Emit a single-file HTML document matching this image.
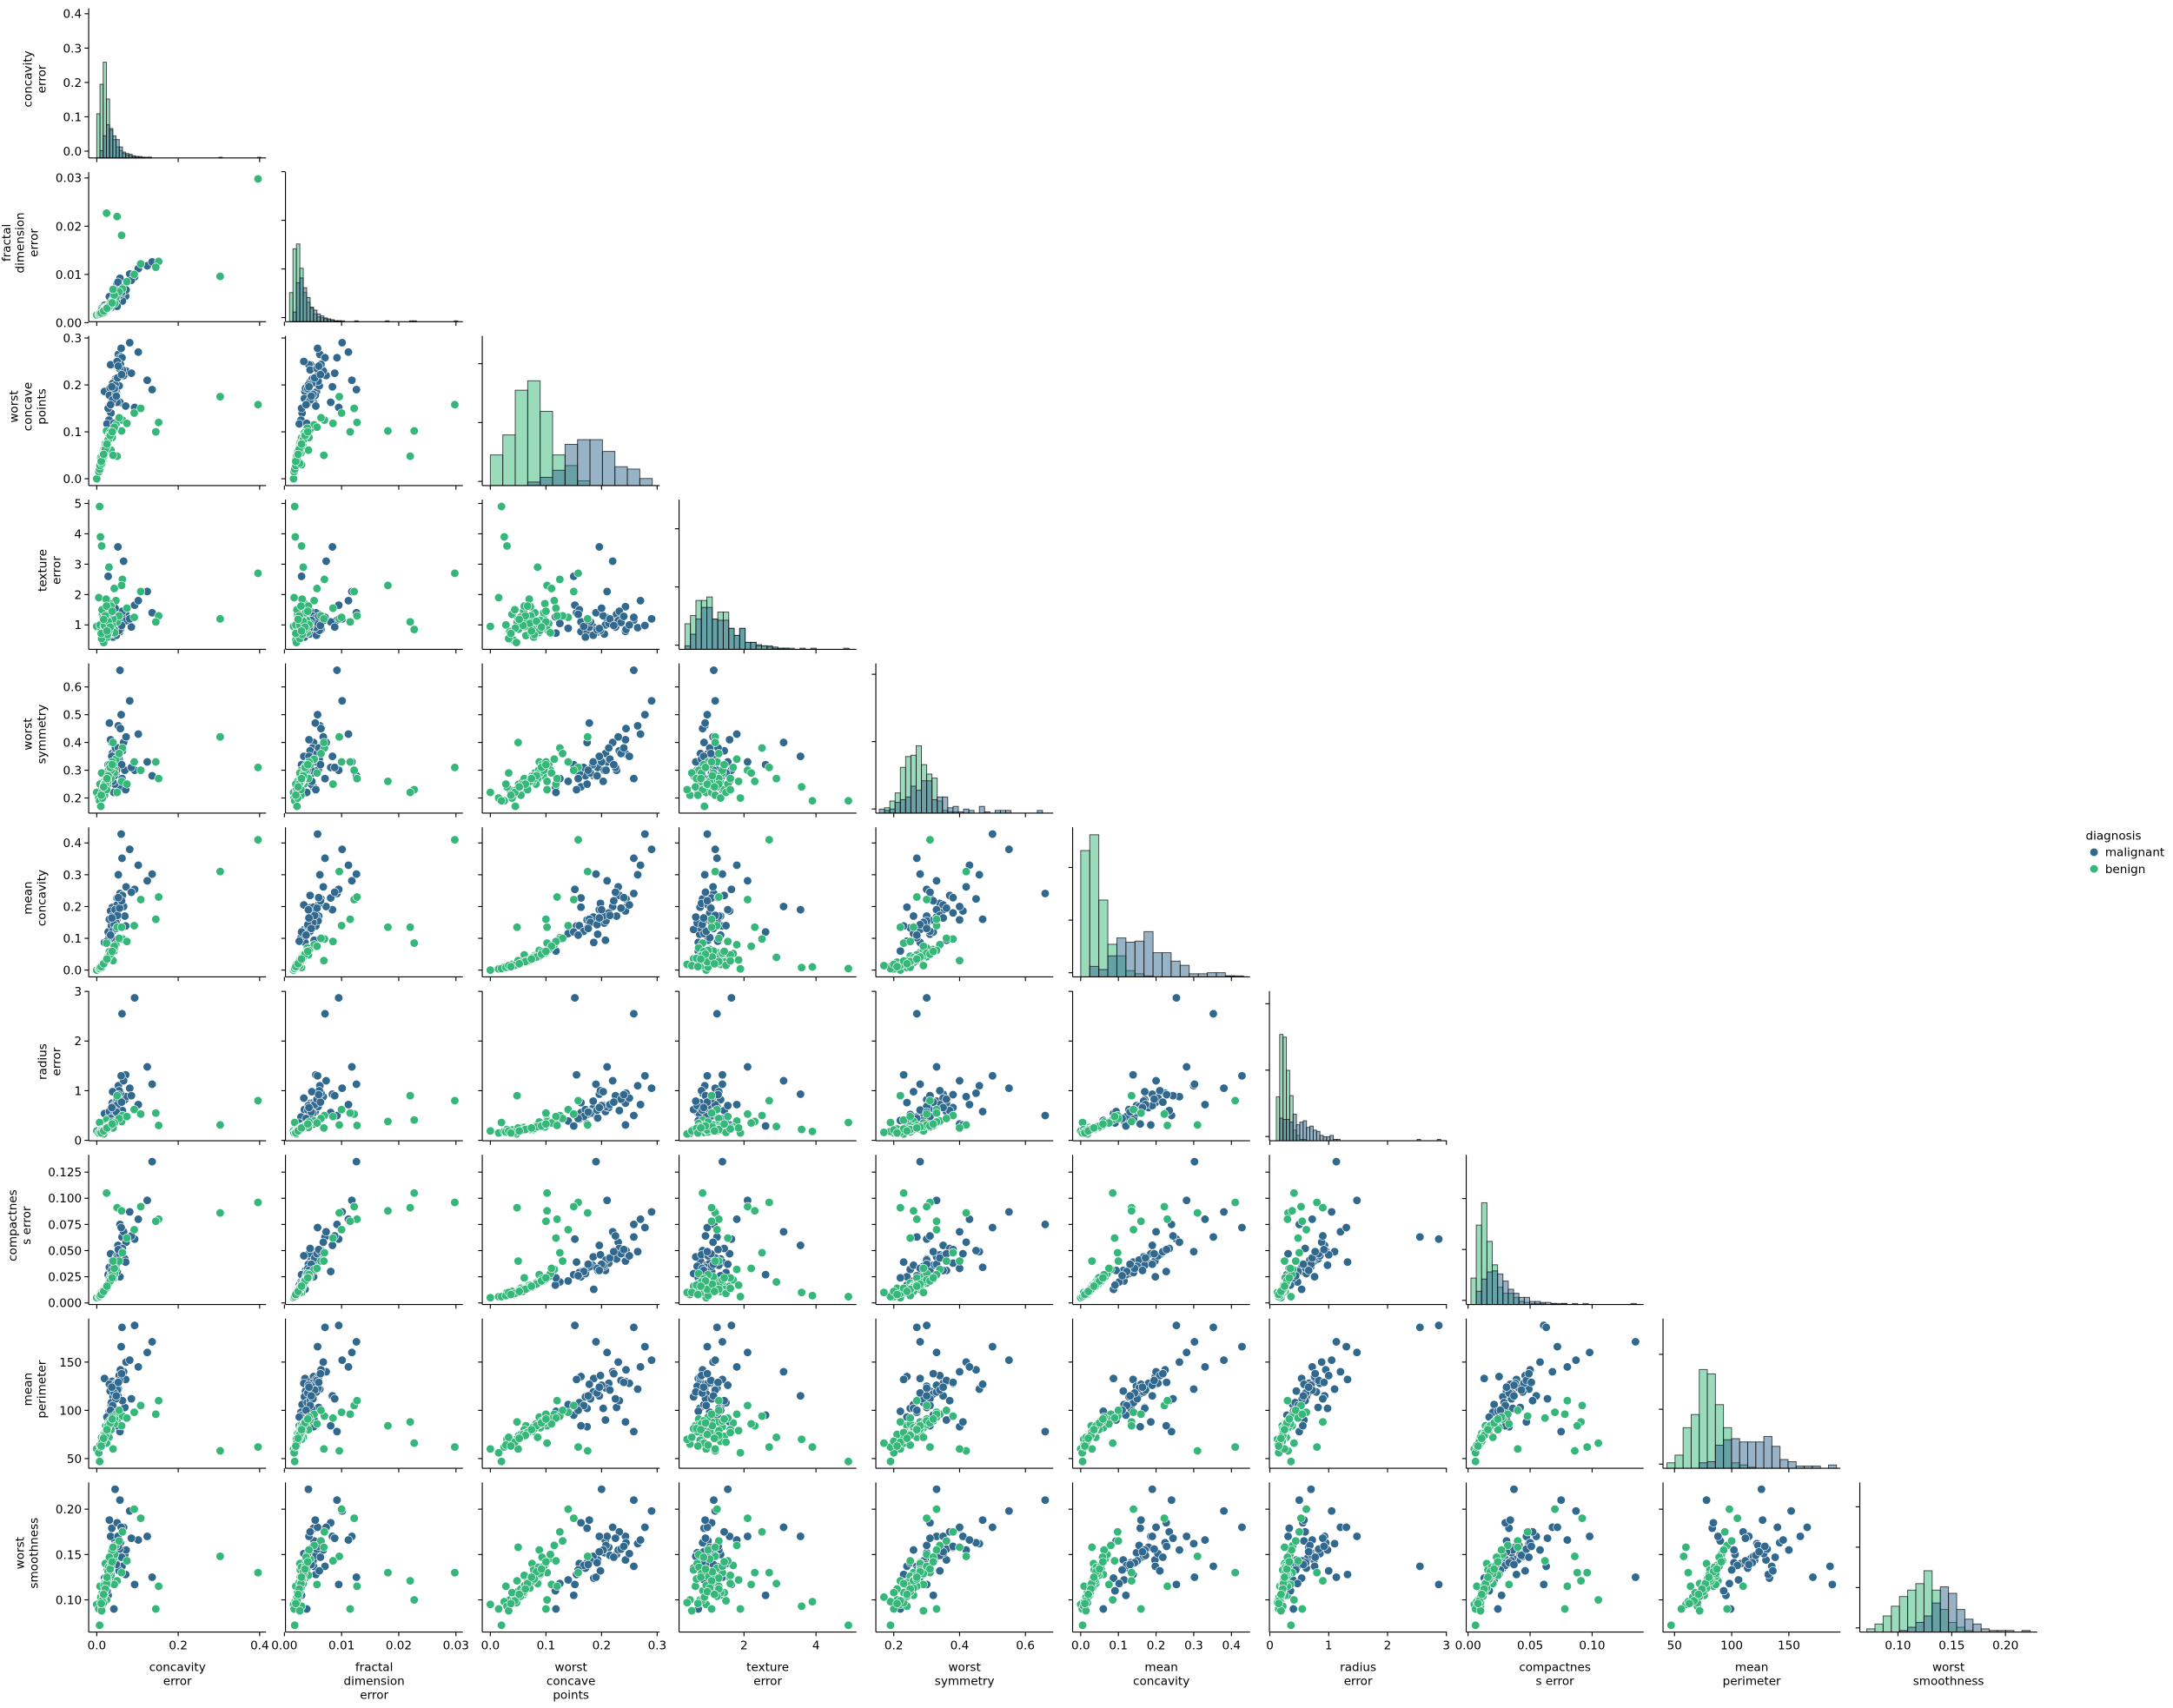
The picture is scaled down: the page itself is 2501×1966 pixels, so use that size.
<!DOCTYPE html>
<html><head><meta charset="utf-8"><style>
html,body{margin:0;padding:0;background:#fff;}
svg{display:block;}
text{font-family:"DejaVu Sans","Liberation Sans",sans-serif;fill:#000;}
</style></head><body>
<svg id="chart" width="2501" height="1966" viewBox="0 0 1568 1232.6" preserveAspectRatio="none" xmlns="http://www.w3.org/2000/svg"></svg>
<script>
// ---------- DATA ----------
const varNames = ['concavity error','fractal dimension error','worst concave points','texture error','worst symmetry','mean concavity','radius error','compactness error','mean perimeter','worst smoothness'];
const varLabelLines = [['concavity','error'],['fractal','dimension','error'],['worst','concave','points'],['texture','error'],['worst','symmetry'],['mean','concavity'],['radius','error'],['compactnes','s error'],['mean','perimeter'],['worst','smoothness']];
const xTicks = [[0,0.2,0.4],[0,0.01,0.02,0.03],[0,0.1,0.2,0.3],[2,4],[0.2,0.4,0.6],[0,0.1,0.2,0.3,0.4],[0,1,2,3],[0,0.05,0.1],[50,100,150],[0.1,0.15,0.2]];
const xTickLabels = [['0.0','0.2','0.4'],['0.00','0.01','0.02','0.03'],['0.0','0.1','0.2','0.3'],['2','4'],['0.2','0.4','0.6'],['0.0','0.1','0.2','0.3','0.4'],['0','1','2','3'],['0.00','0.05','0.10'],['50','100','150'],['0.10','0.15','0.20']];
const yTicks = [[0,0.1,0.2,0.3,0.4],[0,0.01,0.02,0.03],[0,0.1,0.2,0.3],[1,2,3,4,5],[0.2,0.3,0.4,0.5,0.6],[0,0.1,0.2,0.3,0.4],[0,1,2,3],[0,0.025,0.05,0.075,0.1,0.125],[50,100,150],[0.1,0.15,0.2]];
const yTickLabels = [['0.0','0.1','0.2','0.3','0.4'],['0.00','0.01','0.02','0.03'],['0.0','0.1','0.2','0.3'],['1','2','3','4','5'],['0.2','0.3','0.4','0.5','0.6'],['0.0','0.1','0.2','0.3','0.4'],['0','1','2','3'],['0.000','0.025','0.050','0.075','0.100','0.125'],['50','100','150'],['0.10','0.15','0.20']];

// rows: [ce, fde, wcp, te, wsym, mc, re, cpe, mp, ws]
const malignant = [
[0.053,0.0062,0.265,0.91,0.46,0.30,1.10,0.049,122,0.162],
[0.019,0.0036,0.186,0.73,0.28,0.087,0.54,0.013,133,0.124],
[0.038,0.0046,0.243,0.79,0.36,0.197,0.75,0.040,130,0.144],
[0.057,0.0092,0.258,1.16,0.66,0.241,0.50,0.075,78,0.210],
[0.057,0.0051,0.163,0.78,0.24,0.198,0.76,0.025,135,0.137],
[0.037,0.0051,0.174,0.89,0.40,0.158,0.33,0.033,83,0.179],
[0.033,0.0037,0.193,0.77,0.31,0.113,0.45,0.031,120,0.144],
[0.045,0.0052,0.207,1.00,0.36,0.094,0.58,0.031,90,0.165],
[0.034,0.0043,0.243,1.60,0.41,0.186,0.31,0.047,88,0.170],
[0.050,0.0081,0.163,1.10,0.31,0.227,0.56,0.030,84,0.185],
[0.044,0.0047,0.174,0.77,0.25,0.133,0.52,0.032,102,0.141],
[0.069,0.0060,0.227,1.35,0.30,0.170,0.82,0.042,103,0.150],
[0.071,0.0055,0.155,1.40,0.23,0.139,1.32,0.039,132,0.128],
[0.049,0.0046,0.184,0.95,0.32,0.157,0.64,0.036,117,0.146],
[0.093,0.0095,0.152,1.65,0.30,0.254,2.87,0.061,188,0.117],
[0.062,0.0071,0.258,1.25,0.27,0.352,2.55,0.063,186,0.137],
[0.124,0.0118,0.210,2.10,0.33,0.281,1.48,0.098,160,0.170],
[0.136,0.0126,0.190,1.40,0.28,0.302,1.13,0.135,171,0.125],
[0.052,0.0084,0.196,3.57,0.35,0.190,0.93,0.055,115,0.170],
[0.066,0.0073,0.220,3.10,0.40,0.200,1.20,0.068,140,0.180],
[0.040,0.0035,0.171,0.60,0.28,0.128,0.62,0.028,114,0.135],
[0.035,0.0031,0.140,0.89,0.26,0.115,0.39,0.021,106,0.122],
[0.072,0.0068,0.230,1.14,0.42,0.262,0.88,0.058,150,0.155],
[0.041,0.0044,0.205,0.70,0.30,0.148,0.70,0.035,125,0.152],
[0.030,0.0029,0.125,1.05,0.27,0.102,0.47,0.020,98,0.118],
[0.060,0.0058,0.278,0.98,0.50,0.428,1.30,0.072,166,0.180],
[0.081,0.0101,0.290,1.20,0.55,0.380,1.05,0.087,152,0.198],
[0.028,0.0030,0.150,2.60,0.32,0.120,0.29,0.027,95,0.105],
[0.046,0.0049,0.213,1.05,0.38,0.180,0.66,0.038,128,0.158],
[0.058,0.0064,0.244,0.85,0.45,0.224,0.95,0.050,142,0.163],
[0.025,0.0026,0.117,1.27,0.24,0.091,0.35,0.017,93,0.110],
[0.048,0.0056,0.185,0.66,0.33,0.167,0.79,0.044,119,0.148],
[0.036,0.0040,0.160,1.50,0.29,0.140,0.43,0.029,108,0.140],
[0.055,0.0061,0.198,0.82,0.34,0.210,1.00,0.046,136,0.132],
[0.102,0.0112,0.270,1.80,0.43,0.330,0.72,0.080,145,0.166],
[0.042,0.0039,0.118,0.73,0.22,0.060,0.40,0.024,99,0.090],
[0.063,0.0045,0.232,1.45,0.37,0.235,0.60,0.052,110,0.175],
[0.031,0.0054,0.178,0.92,0.47,0.160,0.58,0.034,127,0.188],
[0.044,0.0059,0.208,1.25,0.30,0.155,0.68,0.041,123,0.160],
[0.050,0.0034,0.250,1.00,0.35,0.205,0.85,0.045,128,0.151],
[0.085,0.0088,0.225,0.93,0.31,0.245,0.90,0.064,112,0.168],
[0.039,0.0048,0.203,1.30,0.26,0.170,0.98,0.036,102,0.155],
[0.045,0.0042,0.200,1.55,0.33,0.190,0.70,0.037,126,0.222],
[0.047,0.0050,0.180,1.10,0.29,0.150,0.55,0.035,112,0.143],
[0.039,0.0045,0.168,0.95,0.31,0.122,0.48,0.030,105,0.138],
[0.051,0.0053,0.215,1.20,0.34,0.172,0.72,0.043,121,0.149],
[0.043,0.0041,0.192,0.84,0.28,0.143,0.61,0.033,118,0.141],
[0.056,0.0057,0.235,1.08,0.36,0.195,0.83,0.047,131,0.156],
[0.034,0.0038,0.158,1.35,0.27,0.110,0.44,0.026,100,0.133],
[0.061,0.0063,0.222,0.98,0.32,0.218,0.77,0.049,138,0.147],
[0.048,0.0047,0.176,1.15,0.30,0.131,0.57,0.037,115,0.139],
[0.037,0.0043,0.196,0.88,0.35,0.164,0.66,0.031,124,0.153],
[0.053,0.0060,0.240,1.28,0.38,0.228,0.92,0.051,129,0.159]
];
const benign = [
[0.396,0.0298,0.158,2.70,0.31,0.41,0.80,0.096,62,0.130],
[0.303,0.0096,0.175,1.20,0.42,0.31,0.31,0.086,58,0.148],
[0.020,0.0032,0.068,1.10,0.27,0.030,0.23,0.015,77,0.120],
[0.015,0.0025,0.051,0.86,0.25,0.022,0.20,0.012,74,0.110],
[0.028,0.0031,0.080,1.40,0.29,0.046,0.27,0.018,83,0.130],
[0.011,0.0021,0.035,0.78,0.23,0.012,0.17,0.009,69,0.100],
[0.034,0.0036,0.095,1.25,0.28,0.055,0.30,0.021,88,0.135],
[0.025,0.0028,0.072,1.60,0.26,0.038,0.24,0.016,80,0.125],
[0.000,0.0016,0.000,0.95,0.22,0.000,0.19,0.005,60,0.095],
[0.005,0.0017,0.015,1.90,0.20,0.004,0.15,0.006,56,0.090],
[0.041,0.0045,0.105,1.05,0.32,0.065,0.33,0.025,90,0.145],
[0.022,0.0026,0.064,0.65,0.24,0.028,0.21,0.014,84,0.115],
[0.047,0.0052,0.115,1.80,0.34,0.080,0.39,0.032,96,0.160],
[0.018,0.0023,0.058,1.33,0.26,0.024,0.26,0.011,76,0.105],
[0.063,0.0070,0.125,2.50,0.38,0.098,0.50,0.048,94,0.175],
[0.092,0.0100,0.140,1.25,0.33,0.140,0.62,0.070,98,0.200],
[0.108,0.0122,0.150,2.10,0.30,0.222,0.53,0.092,105,0.190],
[0.013,0.0020,0.042,0.50,0.21,0.016,0.14,0.008,65,0.100],
[0.030,0.0033,0.085,2.90,0.27,0.040,0.28,0.020,72,0.118],
[0.024,0.0227,0.102,0.85,0.23,0.085,0.41,0.105,66,0.100],
[0.050,0.0220,0.048,1.10,0.22,0.135,0.90,0.091,88,0.121],
[0.061,0.0181,0.102,2.30,0.26,0.135,0.38,0.088,84,0.130],
[0.036,0.0039,0.090,1.15,0.29,0.060,0.31,0.025,82,0.128],
[0.009,0.0019,0.025,3.90,0.19,0.010,0.18,0.007,62,0.098],
[0.007,0.0018,0.020,4.90,0.19,0.005,0.36,0.006,47,0.072],
[0.012,0.0030,0.030,3.60,0.24,0.008,0.22,0.010,70,0.093],
[0.021,0.0027,0.075,0.70,0.28,0.034,0.25,0.015,78,0.140],
[0.027,0.0034,0.082,0.98,0.25,0.044,0.29,0.019,86,0.126],
[0.016,0.0024,0.060,1.45,0.23,0.026,0.20,0.013,73,0.108],
[0.044,0.0040,0.108,0.74,0.30,0.070,0.34,0.028,91,0.150],
[0.032,0.0035,0.098,1.70,0.31,0.052,0.27,0.022,87,0.138],
[0.019,0.0029,0.055,1.20,0.21,0.025,0.23,0.014,75,0.112],
[0.010,0.0022,0.045,0.90,0.17,0.014,0.16,0.010,66,0.103],
[0.038,0.0043,0.088,1.00,0.33,0.062,0.37,0.027,93,0.155],
[0.023,0.0031,0.070,1.85,0.26,0.032,0.25,0.017,79,0.122],
[0.055,0.0064,0.130,1.30,0.36,0.100,0.44,0.040,100,0.165],
[0.074,0.0085,0.118,1.55,0.25,0.090,0.48,0.062,92,0.143],
[0.017,0.0021,0.047,0.42,0.23,0.018,0.13,0.010,70,0.097],
[0.026,0.0028,0.078,0.60,0.28,0.036,0.22,0.016,81,0.133],
[0.043,0.0057,0.110,2.20,0.29,0.075,0.35,0.033,86,0.117],
[0.014,0.0023,0.039,1.35,0.20,0.018,0.21,0.011,68,0.108],
[0.031,0.0038,0.093,0.88,0.32,0.058,0.30,0.023,89,0.147],
[0.008,0.0020,0.028,1.00,0.25,0.009,0.17,0.007,64,0.115],
[0.035,0.0042,0.061,1.62,0.27,0.048,0.26,0.024,80,0.127],
[0.020,0.0026,0.066,1.15,0.24,0.030,0.24,0.014,77,0.119],
[0.029,0.0030,0.087,0.75,0.30,0.042,0.27,0.019,85,0.136],
[0.152,0.0127,0.120,1.30,0.27,0.230,0.30,0.080,110,0.115],
[0.145,0.0115,0.100,1.10,0.33,0.160,0.55,0.078,96,0.090],
[0.040,0.0069,0.050,1.20,0.40,0.030,0.25,0.040,60,0.158],
[0.012,0.0027,0.033,0.55,0.29,0.014,0.19,0.010,72,0.088],
[0.024,0.0032,0.073,1.30,0.27,0.036,0.25,0.017,79,0.124],
[0.018,0.0028,0.062,0.95,0.25,0.027,0.21,0.013,76,0.116],
[0.027,0.0030,0.076,1.10,0.26,0.039,0.26,0.016,82,0.121],
[0.022,0.0029,0.071,1.05,0.26,0.031,0.22,0.015,78,0.113],
[0.016,0.0025,0.054,1.25,0.24,0.021,0.19,0.012,72,0.104],
[0.030,0.0034,0.089,0.82,0.29,0.045,0.28,0.020,86,0.129],
[0.013,0.0022,0.044,1.50,0.22,0.015,0.16,0.009,67,0.099],
[0.026,0.0031,0.079,0.68,0.27,0.037,0.24,0.017,81,0.123],
[0.035,0.0037,0.096,1.40,0.30,0.053,0.31,0.022,89,0.137],
[0.019,0.0027,0.059,0.98,0.25,0.026,0.21,0.013,75,0.109],
[0.024,0.0029,0.067,1.62,0.23,0.029,0.23,0.014,77,0.118],
[0.028,0.0033,0.083,1.12,0.28,0.041,0.27,0.018,84,0.131],
[0.011,0.0020,0.037,0.72,0.21,0.011,0.15,0.008,63,0.096],
[0.021,0.0026,0.063,1.30,0.25,0.027,0.22,0.013,74,0.112],
[0.033,0.0036,0.092,0.93,0.31,0.050,0.29,0.021,87,0.134],
[0.017,0.0024,0.052,1.18,0.24,0.020,0.19,0.011,71,0.106],
[0.025,0.0030,0.074,0.80,0.27,0.035,0.25,0.016,80,0.125],
[0.038,0.0041,0.100,1.45,0.32,0.059,0.33,0.024,91,0.142]
];

// histogram bins (diagonal)
const histStart = [0, 0.0009, 0, 0.36, 0.156, 0, 0.11, 0.0023, 43.4, 0.071];
const histWidth = [0.0079, 0.0006, 0.0224, 0.152, 0.016, 0.024, 0.057, 0.0043, 7.06, 0.0076];
const histBenign = [
[60,100,130,80,40,25,15,10,6,4,3,2,2,1,1,0,1,0,0,0,0,0,0,0,0,0,0,0,0,0,0,0,0,0,0,0,0,0,1,0,0,0,0,0,0,0,0,0,0,0,1],
[30,75,80,55,30,20,15,8,5,4,3,2,2,1,1,1,0,0,0,0,0,0,0,0,0,0,0,0,1,0,0,0,0,0,0,1,1,0,0,0,0,0,0,0,0,0,0,0,1],
[26,43,81,89,63,26,17,4,0,0,0,0,0],
[22,29,42,42,45,26,32,32,18,12,18,6,6,4,3,3,2,1,1,1,0,0,0,0,0,0,0,0,0,1],
[0,4,9,15,34,42,43,50,36,29,26,9,2,1,1,0,0,0,0,0,0,0,0,0,0,0,0,0,0,0,0],
[120,135,73,31,20,6,3,1,0,0,0,0,0,0,0,0,1,0],
[33,80,78,53,34,8,4,1,1,0,0,0,0,0,0,0,0,0,0,0,0,0,0,0,0,0,0,0,0,0,0,0,0,0,0,0,0,0,0,0,0,0,0,0,0,0,0,0,0],
[26,78,100,62,39,17,11,11,7,3,2,1,1,1,0,1,0,1,0,0,0,1,0,0,0,0,0,0,0,0,0],
[5,12,37,49,90,86,58,37,5,3,1,0,0,0,0,0,0,0,0,0,0],
[2,5,10,16,22,26,30,38,26,14,6,3,1,0,0,0,0,0,0,0]
];
const histMalignant = [
[0,10,30,45,38,30,25,15,8,6,5,3,2,2,1,1,1,0],
[0,10,40,45,35,25,14,12,8,6,4,3,2,1,1,0,0,0,0,1],
[0,0,0,3,7,13,35,39,39,29,16,14,6],
[3,13,26,36,36,26,25,25,18,12,18,6,6,3,3,2,1,1,1,0,0,1,0,1,0,0,0,0,0,0],
[3,2,3,8,10,12,20,17,24,24,10,12,12,4,5,1,3,2,0,5,1,0,2,2,2,0,0,0,0,0,2],
[0,10,7,20,37,33,34,43,23,23,15,11,3,3,4,4,1,1],
[0,17,16,16,14,20,12,14,15,10,11,8,7,4,3,3,4,1,1,0,0,0,0,0,0,0,0,0,0,0,0,0,0,0,0,0,0,0,0,0,0,0,1,0,0,0,0,0,1],
[0,13,25,32,33,30,23,15,11,7,7,3,3,2,2,1,1,1,0,1,0,0,0,0,0,0,0,0,0,0,1],
[0,0,0,0,5,6,21,26,27,24,24,24,29,20,8,6,2,2,2,0,3],
[0,0,0,0,1,3,6,10,18,28,24,14,8,5,2,1,1,1,0,1]
];

// ---------- LAYOUT / STYLE ----------
const N = 10, L0 = 64, colStep = 142, W = 128, T0 = 6, rowStep = 118.2, H = 108;
const histFrac = [0.64,0.52,0.70,0.35,0.45,0.95,0.71,0.68,0.66,0.41];
const colM = '#31688e', colB = '#35b779';
const FS = 8.5;
const svg = document.getElementById('chart');
const NS = 'http://www.w3.org/2000/svg';
function mk(tag, attrs, parent) {
  const e = document.createElementNS(NS, tag);
  for (const k in attrs) e.setAttribute(k, attrs[k]);
  (parent || svg).appendChild(e);
  return e;
}
const all = malignant.concat(benign);
const lims = varNames.map((_, k) => {
  let mn = Infinity, mx = -Infinity;
  all.forEach(r => { mn = Math.min(mn, r[k]); mx = Math.max(mx, r[k]); });
  const p = (mx - mn) * 0.05;
  return [mn - p, mx + p];
});
function sx(col, v) { const [a, b] = lims[col]; return L0 + colStep * col + (v - a) / (b - a) * W; }
function sy(row, v) { const [a, b] = lims[row]; return T0 + rowStep * row + H - (v - a) / (b - a) * H; }
function slug(s) { return s.replace(/\s+/g, '-'); }

for (let r = 0; r < N; r++) {
  for (let c = 0; c <= r; c++) {
    const L = L0 + colStep * c, T = T0 + rowStep * r, B = T + H;
    const g = mk('g', {});
    
    
    if (c === r) {
      const bins = histBenign[c], binsM = histMalignant[c];
      let mx = 0;
      bins.forEach(v => mx = Math.max(mx, v)); binsM.forEach(v => mx = Math.max(mx, v));
      const scale = histFrac[c] * H / mx;
      [[bins, colB, 'benign'], [binsM, colM, 'malignant']].forEach(([arr, col, nm]) => {
        arr.forEach((v, i) => {
          if (v <= 0) return;
          const x1 = sx(c, histStart[c] + histWidth[c] * i), x2 = sx(c, histStart[c] + histWidth[c] * (i + 1));
          const rect = mk('rect', { x: x1, y: B - v * scale, width: x2 - x1, height: v * scale, fill: col, 'fill-opacity': 0.5, stroke: '#111', 'stroke-opacity': 0.75, 'stroke-width': 0.6 }, g);
          
          
        });
      });
      if (r > 0) {
        const raw = mx / histFrac[c] / 4; const p = Math.pow(10, Math.floor(Math.log10(raw)));
        const step = [1, 2, 2.5, 5, 10].map(m => m * p).find(s => s >= raw);
        for (let t = 0; t * scale <= H; t += step) mk('line', { x1: L - 3, x2: L, y1: B - t * scale - 3, y2: B - t * scale - 3, stroke: '#000', 'stroke-width': 0.7 }, g);
      }
    } else {
      [[malignant, colM, 'malignant'], [benign, colB, 'benign']].forEach(([rows, col, nm]) => {
        rows.forEach(row => {
          const ci = mk('circle', { cx: sx(c, row[c]), cy: sy(r, row[r]), r: 3.0, fill: col, stroke: '#fff', 'stroke-width': 0.4 }, g);
          
          
        });
      });
    }
    if (c !== r || r === 0) {
      yTicks[r].forEach((t, i) => {
        const y = sy(r, t);
        mk('line', { x1: L - 3, x2: L, y1: y, y2: y, stroke: '#000', 'stroke-width': 0.7 }, g);
        if (c === 0) {
          const tx = mk('text', { x: L - 5, y: y + 3.1, 'font-size': FS, 'text-anchor': 'end' }, g);
          tx.textContent = yTickLabels[r][i];
          
          
        }
      });
    }
    xTicks[c].forEach((t, i) => {
      const x = sx(c, t);
      mk('line', { x1: x, x2: x, y1: B, y2: B + 3, stroke: '#000', 'stroke-width': 0.7 }, g);
      if (r === N - 1) {
        const tx = mk('text', { x: x, y: B + 12.5, 'font-size': FS, 'text-anchor': 'middle' }, g);
        tx.textContent = xTickLabels[c][i];
        
        
      }
    });
    mk('line', { x1: L, x2: L, y1: T, y2: B, stroke: '#000', 'stroke-width': 0.7 }, g);
    mk('line', { x1: L, x2: L + W, y1: B, y2: B, stroke: '#000', 'stroke-width': 0.7 }, g);
  }
}
for (let r = 0; r < N; r++) {
  let maxLen = 0; yTickLabels[r].forEach(s => maxLen = Math.max(maxLen, s.length));
  const lastX = L0 - 5 - maxLen * 5.4 - 7;
  const lines = varLabelLines[r], cy = T0 + rowStep * r + H / 2;
  lines.forEach((ln, i) => {
    const x = lastX - (lines.length - 1 - i) * 10;
    const t = mk('text', { x: x, y: cy, 'font-size': FS, 'text-anchor': 'middle', transform: 'rotate(-90 ' + (x - 3) + ' ' + cy + ')' });
    t.textContent = ln;
    
    
  });
}
for (let c = 0; c < N; c++) {
  const cx = L0 + colStep * c + W / 2;
  varLabelLines[c].forEach((ln, i) => {
    const t = mk('text', { x: cx, y: 1206 + i * 10, 'font-size': FS, 'text-anchor': 'middle' });
    t.textContent = ln;
    
    
  });
}
const lg = mk('g', {});


const lt = mk('text', { x: 1505, y: 606, 'font-size': FS }, lg);
lt.textContent = 'diagnosis';


[['malignant', colM, 618], ['benign', colB, 630]].forEach(([nm, col, y]) => {
  const e = mk('g', {}, lg);
  
  
  mk('circle', { cx: 1511, cy: y - 3, r: 3.0, fill: col, stroke: '#fff', 'stroke-width': 0.4 }, e);
  const t = mk('text', { x: 1519, y: y, 'font-size': FS }, e);
  t.textContent = nm;
});
</script>
</body></html>
